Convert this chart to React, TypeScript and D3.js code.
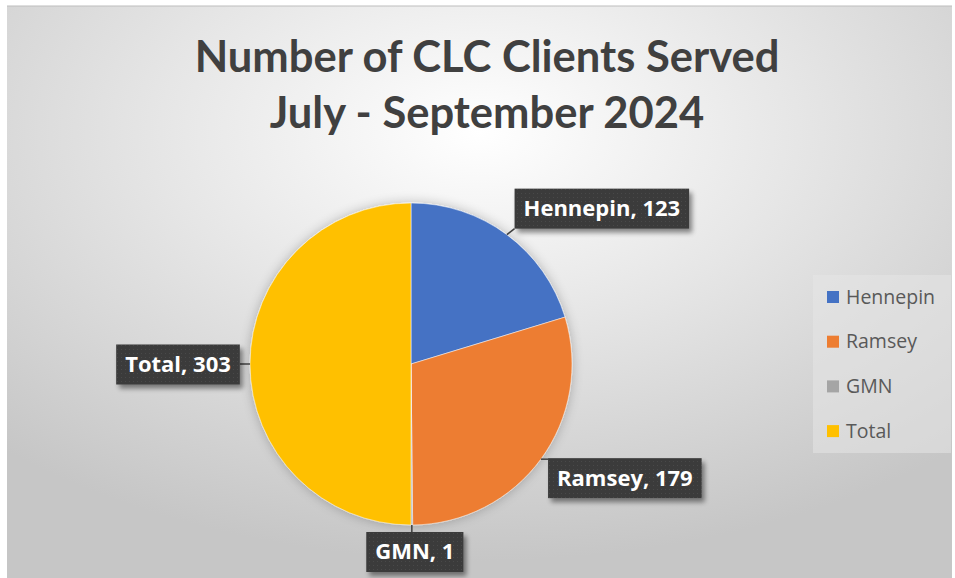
import React from "react";
import * as d3 from "d3";

const categories = ["Hennepin", "Ramsey", "GMN", "Total"];
const values = [123, 179, 1, 303];
const colors = ["#4472C4", "#ED7D31", "#A5A5A5", "#FFC000"];
const titleLines = ["Number of CLC Clients Served", "July - September 2024"];

// label box placement relative to the slice's outer point (layout only)
const labelOffsets: [number, number][] = [
  [95, -26],
  [84, 19],
  [3, 27],
  [-72, 0.5],
];

const W = 955;
const H = 578;
const cx = 411;
const cy = 364;
const R = 161;
const TITLE_FONT = "Lato, 'Open Sans', sans-serif";
const LABEL_FONT = "'Open Sans', sans-serif";

let ctx: CanvasRenderingContext2D | null = null;
function measure(s: string, font: string): number {
  if (typeof document !== "undefined") {
    if (!ctx) ctx = document.createElement("canvas").getContext("2d");
    if (ctx) {
      ctx.font = font;
      return ctx.measureText(s).width;
    }
  }
  return s.length * 11;
}

export default function App() {
  const pie = d3
    .pie<number>()
    .sort(null)
    .value((d) => d);
  const arcs = pie(values);
  const arc = d3.arc<d3.PieArcDatum<number>>().innerRadius(0).outerRadius(R);

  return (
    <svg
      width={W}
      height={H}
      style={{ position: "absolute", left: 0, top: 0 }}
      xmlns="http://www.w3.org/2000/svg"
    >
      <defs>
        <radialGradient id="bg" cx="50%" cy="22%" r="75%" fx="50%" fy="22%">
          <stop offset="0%" stopColor="#ffffff" />
          <stop offset="45%" stopColor="#e6e6e6" />
          <stop offset="100%" stopColor="#c6c6c6" />
        </radialGradient>
        <pattern id="dots" width="4" height="4" patternUnits="userSpaceOnUse">
          <rect width="4" height="4" fill="#3a3a3a" />
          <rect x="1" y="1" width="1" height="1" fill="#4a4a4a" />
        </pattern>
        <filter id="shadow" x="-20%" y="-20%" width="150%" height="160%">
          <feGaussianBlur in="SourceAlpha" stdDeviation="2.5" />
          <feOffset dx="3" dy="4" result="b" />
          <feComponentTransfer>
            <feFuncA type="linear" slope="0.45" />
          </feComponentTransfer>
          <feMerge>
            <feMergeNode />
            <feMergeNode in="SourceGraphic" />
          </feMerge>
        </filter>
        <filter id="pieShadow" x="-20%" y="-20%" width="140%" height="140%">
          <feGaussianBlur in="SourceAlpha" stdDeviation="6" />
          <feComponentTransfer>
            <feFuncA type="linear" slope="0.25" />
          </feComponentTransfer>
          <feMerge>
            <feMergeNode />
            <feMergeNode in="SourceGraphic" />
          </feMerge>
        </filter>
      </defs>
      <rect x={0} y={0} width={W} height={H} fill="#ffffff" />
      <rect x={7} y={6} width={945} height={572} fill="url(#bg)" />
      <line x1={7} y1={6} x2={952} y2={6} stroke="#bdbdbd" strokeWidth={1} />

      {titleLines.map((t, i) => (
        <text
          key={i}
          x={487}
          y={72 + i * 56}
          textAnchor="middle"
          fontFamily={TITLE_FONT}
          fontWeight="bold"
          fontSize={43.5}
          fill="#404040"
        >
          {t}
        </text>
      ))}

      <g transform={`translate(${cx},${cy})`} filter="url(#pieShadow)">
        {arcs.map((a, i) => (
          <path
            key={i}
            d={arc(a) || ""}
            fill={colors[i]}
            stroke="#ffffff"
            strokeWidth={0.5}
          />
        ))}
      </g>

      {arcs.map((a, i) => {
        const mid = (a.startAngle + a.endAngle) / 2;
        const ex = cx + R * Math.sin(mid);
        const ey = cy - R * Math.cos(mid);
        const [dx, dy] = labelOffsets[i];
        const text = `${categories[i]}, ${values[i]}`;
        const fs = 22;
        const tw = measure(text, `bold ${fs}px 'Open Sans'`);
        const bw = tw + 18;
        const bh = 40;
        const bx = ex + dx - bw / 2;
        const by = ey + dy - bh / 2;
        const nx = Math.max(bx, Math.min(ex, bx + bw));
        const ny = Math.max(by, Math.min(ey, by + bh));
        return (
          <g key={i}>
            <path
              d={`M${ex},${ey} L${nx},${ny}`}
              stroke="#404040"
              strokeWidth={1.5}
              fill="none"
            />
            <g filter="url(#shadow)">
              <rect x={bx} y={by} width={bw} height={bh} fill="url(#dots)" />
            </g>
            <text
              x={bx + bw / 2}
              y={by + bh / 2 + 7.5}
              textAnchor="middle"
              fontFamily={LABEL_FONT}
              fontWeight="bold"
              fontSize={fs}
              fill="#ffffff"
            >
              {text}
            </text>
          </g>
        );
      })}

      <rect x={813} y={275} width={138} height={178} fill="#e6e6e6" opacity={0.55} />
      {categories.map((c, i) => (
        <g key={c} transform={`translate(827,${297 + i * 44.7})`}>
          <rect x={0} y={-6} width={12} height={12} fill={colors[i]} />
          <text
            x={19}
            y={6.5}
            fontFamily={LABEL_FONT}
            fontSize={19.5}
            fill="#595959"
          >
            {c}
          </text>
        </g>
      ))}
    </svg>
  );
}
